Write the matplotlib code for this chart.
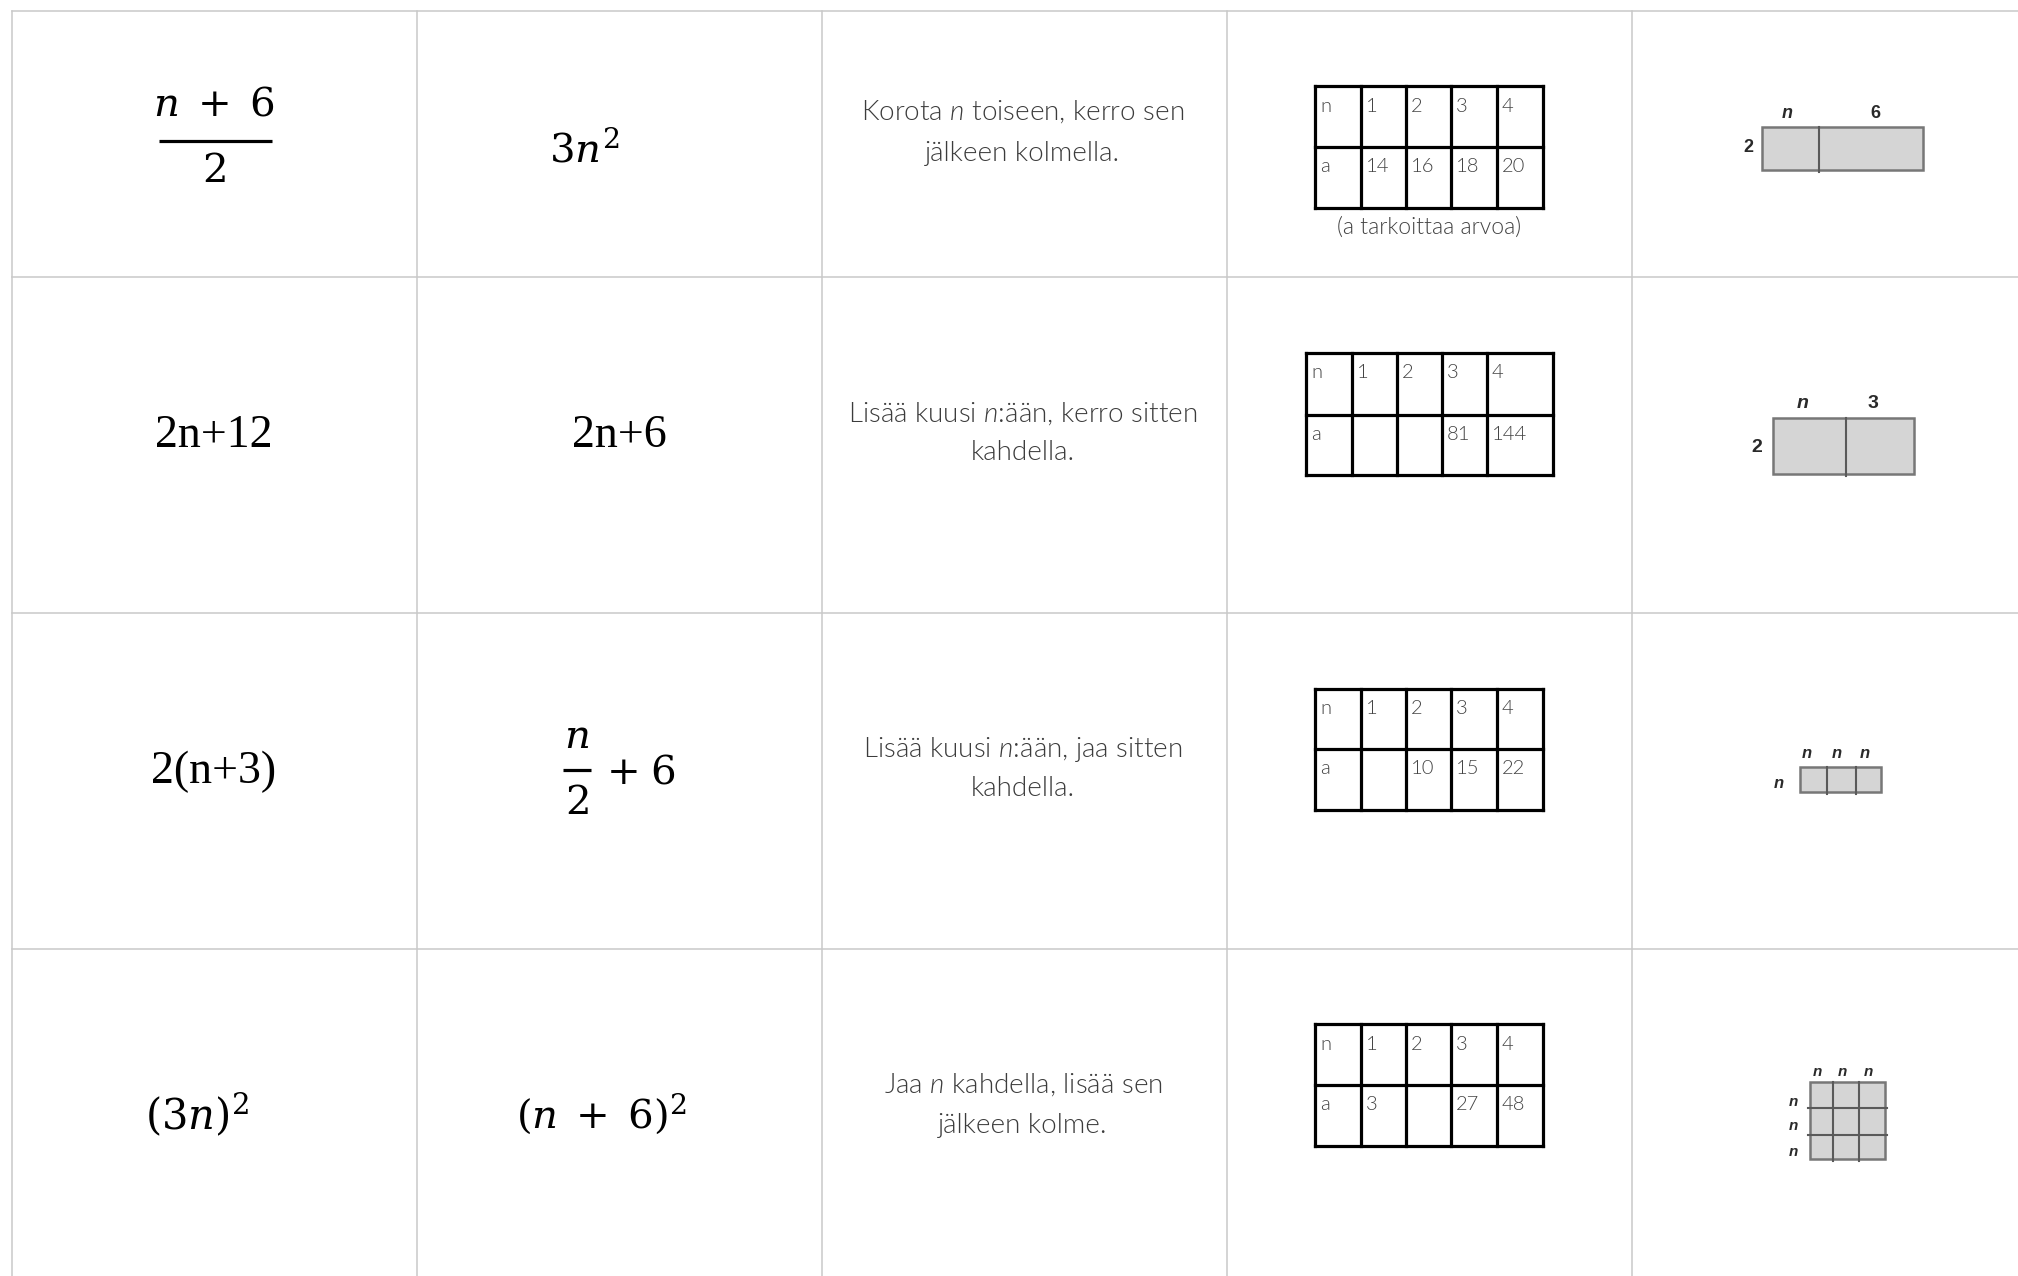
import matplotlib
matplotlib.use('Agg')
import matplotlib.pyplot as plt

# korttien sisältö
rule_texts = [
    ['Korota $n$ toiseen, kerro sen', 'jälkeen kolmella.'],
    ['Lisää kuusi $n$:ään, kerro sitten', 'kahdella.'],
    ['Lisää kuusi $n$:ään, jaa sitten', 'kahdella.'],
    ['Jaa $n$ kahdella, lisää sen', 'jälkeen kolme.'],
]
n_row = ['n', '1', '2', '3', '4']
a_rows = [
    ['a', '14', '16', '18', '20'],
    ['a', '', '', '81', '144'],
    ['a', '', '10', '15', '22'],
    ['a', '3', '', '27', '48'],
]
caption = '(a tarkoittaa arvoa)'
col1_expr = [r'$n\;+\;6$', '2n+12', '2(n+3)', r'$(3n)^2$']
col2_expr = [r'$3n^2$', '2n+6', r'$n$', r'$(n\;+\;6)^2$']
# aluemallit: sivujen nimet ylhäällä ja vasemmalla
area_top = [['n', '6'], ['n', '3'], ['n', 'n', 'n'], ['n', 'n', 'n']]
area_left = [['2'], ['2'], ['n'], ['n', 'n', 'n']]

plt.rcParams['mathtext.fontset'] = 'custom'
plt.rcParams['mathtext.rm'] = 'Lato'
plt.rcParams['mathtext.it'] = 'Lato:style=italic:weight=300'

W, H = 2018, 1276
fig = plt.figure(figsize=(W / 100, H / 100), dpi=100)
ax = fig.add_axes([0, 0, 1, 1])
ax.set_xlim(0, W)
ax.set_ylim(H, 0)
ax.axis('off')

# päätaulukon ruudukko
col_x = [11.5 + 405 * i for i in range(6)]
row_y = [11, 277, 613, 949, 1290]
grid_c = '#c9c9c9'
for x in col_x:
    ax.plot([x, x], [row_y[0], H], color=grid_c, lw=1.1)
for y in row_y[:-1]:
    ax.plot([col_x[0], W], [y, y], color=grid_c, lw=1.1)

c1 = 214
serif = 'Liberation Serif'
mfam = 'dejavuserif'
msize = 29

# sarake 1
ax.text(c1, 104, col1_expr[0], ha='center', va='center', fontsize=msize, math_fontfamily=mfam)
ax.plot([159, 272], [141, 141], color='black', lw=2.3, solid_capstyle='butt')
ax.text(c1, 171, '$2$', ha='center', va='center', fontsize=msize, math_fontfamily=mfam)
ax.text(c1, 436, col1_expr[1], ha='center', va='center', fontsize=33, family=serif)
ax.text(c1, 772, col1_expr[2], ha='center', va='center', fontsize=33, family=serif)
ax.text(197, 1115, col1_expr[3], ha='center', va='center', fontsize=30, math_fontfamily=mfam)

# sarake 2
ax.text(584, 150, col2_expr[0], ha='center', va='center', fontsize=msize, math_fontfamily=mfam)
ax.text(619, 436, col2_expr[1], ha='center', va='center', fontsize=33, family=serif)
ax.text(577, 737, col2_expr[2], ha='center', va='center', fontsize=msize, math_fontfamily=mfam)
ax.plot([563, 591], [770, 770], color='black', lw=2.3, solid_capstyle='butt')
ax.text(577, 803, '$2$', ha='center', va='center', fontsize=msize, math_fontfamily=mfam)
ax.text(641, 772, r'$+\;6$', ha='center', va='center', fontsize=msize, math_fontfamily=mfam)
ax.text(601, 1115, col2_expr[3], ha='center', va='center', fontsize=msize, math_fontfamily=mfam)

# sarake 3: säännöt
line_y = [(112, 153), (414, 453), (749, 789), (1085, 1125)]
for lines, ys in zip(rule_texts, line_y):
    for t, y in zip(lines, ys):
        ax.text(1023, y, t, ha='center', va='center', fontsize=20,
                family='Lato', weight=300, color='#3c3c3c')

# sarake 4: arvotaulukot
tables = [
    ([1315, 1361, 1406, 1451, 1497, 1543], [86, 147, 208]),
    ([1306, 1352, 1397, 1442, 1487, 1553], [353, 415, 475]),
    ([1315, 1361, 1406, 1451, 1497, 1543], [689, 749, 810]),
    ([1315, 1361, 1406, 1451, 1497, 1543], [1024, 1085, 1146]),
]
for (xs, ys), a_row in zip(tables, a_rows):
    for x in xs:
        ax.plot([x, x], [ys[0], ys[-1]], color='black', lw=2.3, solid_capstyle='projecting')
    for y in ys:
        ax.plot([xs[0], xs[-1]], [y, y], color='black', lw=2.3, solid_capstyle='projecting')
    for r, vals in enumerate([n_row, a_row]):
        for j, v in enumerate(vals):
            ax.text(xs[j] + 5, ys[r] + 20, v, ha='left', va='center', fontsize=14.5,
                    family='Lato', weight=300, color='#444444')
ax.text(1429, 227, caption, ha='center', va='center', fontsize=16.5, family='Lato',
        weight=300, color='#444444')

# sarake 5: aluemallit
models = [
    (1762, 1923, 127, 170, [1819], []),
    (1773, 1914, 418, 474, [1846], []),
    (1800, 1881, 767, 792, [1827, 1856], []),
    (1810, 1885, 1082, 1159, [1833, 1859], [1108, 1135]),
]
top_pos = [[1787, 1875], [1803, 1873], [1807, 1837, 1865], [1817, 1842, 1868]]
top_y = [114, 403, 754, 1072]
left_pos = [[(1748, 148)], [(1757, 447)], [(1779, 783)], [(1793, 1102), (1793, 1126), (1793, 1152)]]
lab_size = [13, 14, 12, 11]
for k, (x0, x1, y0, y1, vx, hy) in enumerate(models):
    ax.add_patch(plt.Rectangle((x0, y0), x1 - x0, y1 - y0, facecolor='#d5d5d5',
                               edgecolor='#777777', lw=1.8))
    for x in vx:
        ax.plot([x, x], [y0, y1 + 2], color='#5a5a5a', lw=1.5)
    for y in hy:
        ax.plot([x0 - 2, x1 + 2], [y, y], color='#5a5a5a', lw=1.5)
    for lab, x in zip(area_top[k], top_pos[k]):
        ax.text(x, top_y[k], lab, ha='center', va='center', fontsize=lab_size[k],
                family='Liberation Sans', weight='bold', style='italic' if lab == 'n' else 'normal',
                color='#2a2a2a')
    for lab, (x, y) in zip(area_left[k], left_pos[k]):
        ax.text(x, y, lab, ha='center', va='center', fontsize=lab_size[k],
                family='Liberation Sans', weight='bold', style='italic' if lab == 'n' else 'normal',
                color='#2a2a2a')

fig.savefig('out.png', dpi=100)
